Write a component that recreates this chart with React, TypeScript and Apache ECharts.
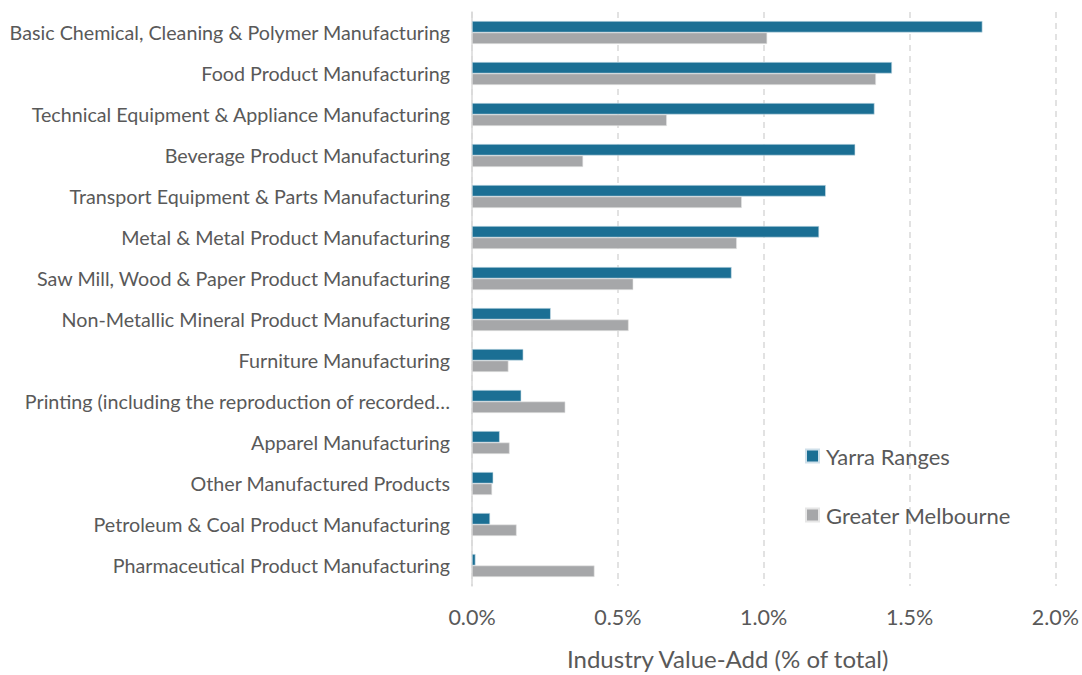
import React, { useEffect, useRef } from "react";
import * as echarts from "echarts";

const categories = [
  "Basic Chemical, Cleaning & Polymer Manufacturing",
  "Food Product Manufacturing",
  "Technical Equipment & Appliance Manufacturing",
  "Beverage Product Manufacturing",
  "Transport Equipment & Parts Manufacturing",
  "Metal & Metal Product Manufacturing",
  "Saw Mill, Wood & Paper Product Manufacturing",
  "Non-Metallic Mineral Product Manufacturing",
  "Furniture Manufacturing",
  "Printing (including the reproduction of recorded…",
  "Apparel Manufacturing",
  "Other Manufactured Products",
  "Petroleum & Coal Product Manufacturing",
  "Pharmaceutical Product Manufacturing",
];

const yarraRanges = [1.75, 1.44, 1.38, 1.314, 1.213, 1.19, 0.89, 0.27, 0.176, 0.169, 0.095, 0.073, 0.062, 0.012];
const greaterMelbourne = [1.012, 1.385, 0.668, 0.381, 0.925, 0.908, 0.553, 0.537, 0.125, 0.32, 0.129, 0.069, 0.153, 0.42];

const xTicks = { min: 0, max: 2, interval: 0.5 };

const FONT = "Lato";
const TEXT = "#595959";

export default function App() {
  const ref = useRef<HTMLDivElement>(null);
  useEffect(() => {
    if (!ref.current) return;
    const chart = echarts.init(ref.current, null, { renderer: "svg" });
    chart.setOption({
      animation: false,
      backgroundColor: "#ffffff",
      textStyle: { fontFamily: FONT },
      grid: { left: 472, right: 26, top: 12, bottom: 87, containLabel: false },
      legend: {
        orient: "vertical",
        left: 800,
        top: 440,
        itemWidth: 13,
        itemHeight: 13,
        itemGap: 37,
        icon: "rect",
        textStyle: { fontFamily: FONT, fontSize: 22, color: TEXT, padding: [0, 0, 0, 2] },
        data: ["Yarra Ranges", "Greater Melbourne"],
      },
      xAxis: {
        type: "value",
        min: xTicks.min,
        max: xTicks.max,
        interval: xTicks.interval,
        name: "Industry Value-Add (% of total)",
        nameLocation: "middle",
        nameGap: 72,
        nameTextStyle: {
          fontFamily: FONT,
          fontSize: 24,
          color: TEXT,
          verticalAlign: "middle",
          padding: [0, 72, 0, 0],
        },
        axisLine: { show: false },
        axisTick: { show: false },
        axisLabel: {
          fontFamily: FONT,
          fontSize: 21.5,
          color: TEXT,
          margin: 20,
          formatter: (v: number) => v.toFixed(1) + "%",
        },
        splitLine: { show: true, lineStyle: { color: "#d9d9d9", type: [6, 5], width: 1.5 } },
      },
      yAxis: {
        type: "category",
        inverse: true,
        data: categories,
        axisLine: { show: true, lineStyle: { color: "#d9d9d9", width: 1.5 } },
        axisTick: { show: false },
        axisLabel: { fontFamily: FONT, fontSize: 19.7, color: TEXT, margin: 22 },
        splitLine: { show: false },
      },
      series: [
        {
          name: "Yarra Ranges",
          type: "bar",
          data: yarraRanges,
          barWidth: 11.5,
          barGap: "0%",
          itemStyle: { color: "#1B6F94", borderColor: "#cfe0ea", borderWidth: 0.6 },
        },
        {
          name: "Greater Melbourne",
          type: "bar",
          data: greaterMelbourne,
          barWidth: 11.5,
          barGap: "0%",
          itemStyle: { color: "#A6A7A9", borderColor: "#e6e6e6", borderWidth: 0.6 },
        },
      ],
    });
    return () => chart.dispose();
  }, []);
  return (
    <div
      ref={ref}
      style={{ position: "absolute", left: 0, top: 0, width: 1082, height: 675 }}
    />
  );
}
